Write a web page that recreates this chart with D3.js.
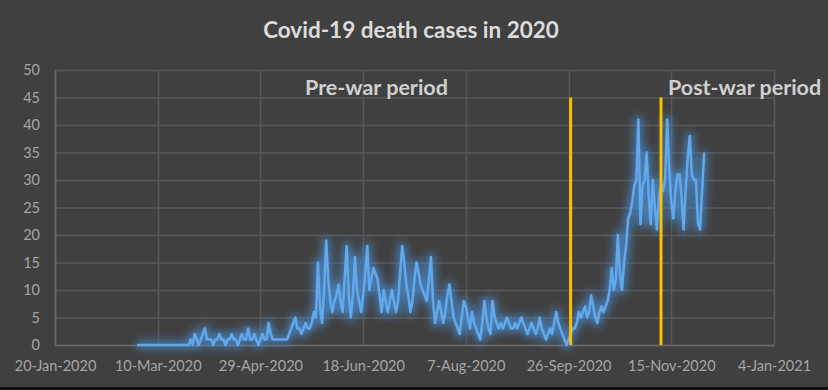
<!DOCTYPE html>
<html>
<head>
<meta charset="utf-8">
<script src="https://cdn.jsdelivr.net/npm/d3@7"></script>
<style>
    body { margin: 0; background-color: #404040; }
    svg { display: block; }
</style>
</head>
<body>
<svg id="svg"></svg>
<script>
    // - data ------------------------------------------------------------
    var title = "Covid-19 death cases in 2020";
    var startDate = "2020-02-29";        // - first day of the series
    var deaths = [
        // 29-Feb .. 24-Mar
        0,0,0,0,0,0,0,0,0,0,0,0,0,0,0,0,0,0,0,0,0,0,0,0,0,
        // 25-Mar ..
        0,1,0,2,1,0,1,2,3,1,1,
        1,0,1,1,2,1,1,0,1,1,2,1,1,0,1,
        2,1,1,3,1,1,2,1,0,1,2,1,1,4,2,
        1,1,1,1,1,1,1,1,2,3,4,
        5,3,3,2,3,4,3,3,4,6,5,15,
        7,4,10,19,12,8,6,8,9,11,8,6,12,18,9,5,9,16,10,8,6,9,13,18,10,12,14,13,12,9,
        6,10,8,6,8,10,8,6,8,13,18,15,11,9,6,8,12,15,13,11,10,9,8,12,16,8,4,6,8,6,
        4,6,9,11,8,5,4,3,2,5,8,7,
        5,3,6,4,3,2,1,4,8,5,3,2,8,5,4,3,4,3,4,5,4,3,3,4,3,4,5,4,3,2,
        3,4,3,2,3,5,3,2,1,2,3,2,4,6,4,3,2,1,0,1,2,3,3,4,6,5,6,7,5,6,
        9,7,5,4,6,7,6,7,8,10,14,10,12,20,13,10,15,18,23,24,26,29,30,41,22,29,30,35,27,22,
        30,25,21,27,29,28,30,41,32,26,23,28,31,31,27,21,28,34,38,31,30,30,22,21,28,35
    ];
    var xTicks = ["2020-01-20", "2020-03-10", "2020-04-29", "2020-06-18", "2020-08-07",
                  "2020-09-26", "2020-11-15", "2021-01-04"];
    var yTicks = [0, 5, 10, 15, 20, 25, 30, 35, 40, 45, 50];
    var warLines = ["2020-09-27", "2020-11-10"];
    var warTop = 45;
    var periodLabels = ["Pre-war period", "Post-war period"];

    // - svg ---------------------------------------------------------------
    var width = 828, height = 390;
    var svg = d3.select("svg#svg")
        .attr("width", width)
        .attr("height", height)
        .style("background-color", "#404040");

    var parse = d3.timeParse("%Y-%m-%d");
    var fmt = d3.timeFormat("%-d-%b-%Y");

    var x = d3.scaleTime()
        .domain([parse(xTicks[0]), parse(xTicks[xTicks.length - 1])])
        .range([55, 774]);
    var y = d3.scaleLinear().domain([0, 50]).range([345, 70]);

    var series = deaths.map(function(v, i) {
        return { date: d3.timeDay.offset(parse(startDate), i), value: v };
    });

    // - glow filters
    var defs = svg.append("defs");
    var glow = defs.append("filter").attr("id", "glow")
        .attr("x", "-5%").attr("y", "-20%").attr("width", "110%").attr("height", "140%");
    glow.append("feGaussianBlur").attr("stdDeviation", 4);
    var glowY = defs.append("filter").attr("id", "glowy")
        .attr("x", "-200%").attr("y", "-5%").attr("width", "500%").attr("height", "110%");
    glowY.append("feGaussianBlur").attr("stdDeviation", 2.5);

    // - grid ----------------------------------------------------------------
    var grid = svg.append("g").attr("id", "grid");
    grid.selectAll("line.h").data(yTicks).enter()
        .append("line")
        .attr("class", "h")
        .attr("x1", 55).attr("x2", 775)
        .attr("y1", function(d) { return y(d) + 0.5 })
        .attr("y2", function(d) { return y(d) + 0.5 })
        .style("stroke", "#585858")
        .attr("stroke-width", 1.5);
    grid.selectAll("line.v").data(xTicks).enter()
        .append("line")
        .attr("class", "v")
        .attr("x1", function(d) { return Math.round(x(parse(d))) + 0.5 })
        .attr("x2", function(d) { return Math.round(x(parse(d))) + 0.5 })
        .attr("y1", y(50)).attr("y2", y(0))
        .style("stroke", "#575757")
        .attr("stroke-width", 1.5);

    // - axes ----------------------------------------------------------------
    var yAxis = svg.append("g")
        .attr("transform", "translate(55,0)")
        .call(d3.axisLeft(y).tickValues(yTicks).tickSize(0).tickPadding(15));
    var xAxis = svg.append("g")
        .attr("transform", "translate(0,345)")
        .call(d3.axisBottom(x).tickValues(xTicks.map(parse)).tickFormat(fmt).tickSize(0).tickPadding(16));
    svg.selectAll(".domain").style("stroke", "#6a6a6a").attr("stroke-width", 1.5);
    svg.selectAll(".tick text")
        .style("fill", "#a6a6a6")
        .style("font-family", "Lato, 'Open Sans', sans-serif")
        .style("font-size", "14.5px");

    // - line ----------------------------------------------------------------
    var line = d3.line()
        .x(function(d) { return x(d.date) })
        .y(function(d) { return y(d.value) });

    svg.append("path").datum(series)
        .attr("d", line)
        .attr("filter", "url(#glow)")
        .style("fill", "none")
        .style("stroke", "#4a8fd6")
        .style("stroke-opacity", 0.75)
        .attr("stroke-width", 8)
        .attr("stroke-linejoin", "round");
    svg.append("path").datum(series)
        .attr("d", line)
        .style("fill", "none")
        .style("stroke", "#62a9ec")
        .attr("stroke-width", 2.5)
        .attr("stroke-linejoin", "round");

    // - war lines
    var wl = svg.append("g").attr("id", "war-lines");
    wl.selectAll("line.glow").data(warLines).enter()
        .append("line")
        .attr("class", "glow")
        .attr("x1", function(d) { return x(parse(d)) })
        .attr("x2", function(d) { return x(parse(d)) })
        .attr("y1", y(warTop)).attr("y2", y(0))
        .attr("filter", "url(#glowy)")
        .style("stroke", "#d89a1a")
        .style("stroke-opacity", 0.6)
        .attr("stroke-width", 6);
    wl.selectAll("line.main").data(warLines).enter()
        .append("line")
        .attr("class", "main")
        .attr("x1", function(d) { return x(parse(d)) })
        .attr("x2", function(d) { return x(parse(d)) })
        .attr("y1", y(warTop)).attr("y2", y(0))
        .style("stroke", "#ffc000")
        .attr("stroke-width", 3);

    // - texts ---------------------------------------------------------------
    svg.append("text")
        .attr("x", 411).attr("y", 38)
        .text(title)
        .style("text-anchor", "middle")
        .style("fill", "#dcdcdc")
        .style("font-family", "Lato, 'Open Sans', sans-serif")
        .style("font-weight", "bold")
        .style("font-size", "22.5px");

    svg.selectAll("text.period").data(periodLabels).enter()
        .append("text")
        .attr("class", "period")
        .attr("x", function(d, i) { return i == 0 ? 305 : 668 })
        .attr("y", 95)
        .text(function(d) { return d })
        .style("fill", "#d0d0d0")
        .style("font-family", "Lato, 'Open Sans', sans-serif")
        .style("font-weight", "bold")
        .style("font-size", "21.5px");

    // - dark strip at the bottom edge of the photo
    svg.append("rect")
        .attr("x", 0).attr("y", 387).attr("width", width).attr("height", 3)
        .style("fill", "#111111");
</script>
</body>
</html>
